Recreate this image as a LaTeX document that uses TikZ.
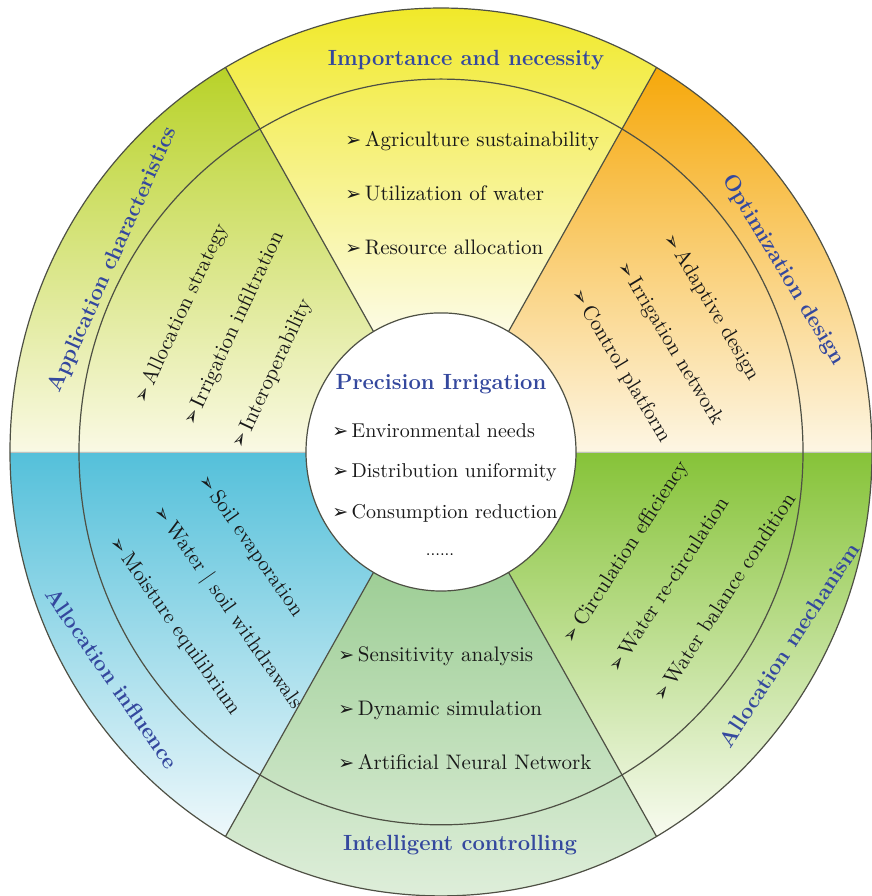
\documentclass[tikz,border=0pt]{standalone}
\usepackage{fontspec}
\newfontfamily\arrowfont{DejaVu Sans}
\definecolor{titleblue}{RGB}{52,72,158}
\definecolor{lineg}{RGB}{78,80,68}
\definecolor{orgA}{RGB}{246,168,10}
\definecolor{orgM}{RGB}{250,204,90}
\definecolor{orgB}{RGB}{253,246,228}
\definecolor{yelA}{RGB}{240,232,30}
\definecolor{yelM}{RGB}{245,240,120}
\definecolor{yelB}{RGB}{252,251,228}
\definecolor{lgA}{RGB}{184,210,40}
\definecolor{lgM}{RGB}{222,232,130}
\definecolor{lgB}{RGB}{250,249,228}
\definecolor{cyA}{RGB}{84,192,218}
\definecolor{cyM}{RGB}{115,203,227}
\definecolor{cyB}{RGB}{238,248,251}
\definecolor{mgA}{RGB}{158,206,150}
\definecolor{mgM}{RGB}{190,222,184}
\definecolor{mgB}{RGB}{226,240,222}
\definecolor{grA}{RGB}{134,195,56}
\definecolor{grM}{RGB}{178,215,105}
\definecolor{grB}{RGB}{248,251,240}
\newcommand{\bul}{{\arrowfont\fontsize{9.5}{9.5}\selectfont ➢}\,}
\tikzset{
    ringtitle/.style = {font=\fontsize{11}{13}\selectfont\bfseries, text=titleblue, inner sep=0pt},
    itemlist/.style = {align=left, font=\fontsize{10.5}{27}\selectfont, text=black!90, inner sep=0pt},
    coreitems/.style = {align=left, font=\fontsize{10}{20.25}\selectfont, text=black!90, inner sep=0pt},
    coretitle/.style = {font=\fontsize{11}{13}\selectfont\bfseries, text=titleblue, inner sep=0pt},
    border/.style = {draw=lineg, line width=0.6pt},
    faint/.style = {draw=lineg!35, line width=0.4pt}
}
\begin{document}
\begin{tikzpicture}[x=0.5pt,y=0.515pt]
\useasboundingbox (-441,-431.1) rectangle (430,438.8);
%
\foreach \a/\ct/\cm/\cb in {0/orgA/orgM/orgB, 60/yelA/yelM/yelB, 120/lgA/lgM/lgB,
                            180/cyA/cyM/cyB, 240/mgA/mgM/mgB, 300/grA/grM/grB}
  \shade[top color=\ct, middle color=\cm, bottom color=\cb]
    (\a:135) -- (\a:431) arc[start angle=\a, delta angle=60, radius=431]
    -- ({\a+60}:135) arc[start angle=\a+60, delta angle=-60, radius=135] -- cycle;
%
\draw[faint] (0:135) -- (0:431);
\draw[faint] (180:135) -- (180:431);
\foreach \a in {60,120,240,300}
  \draw[border] (\a:135) -- (\a:431);
\draw[border] (0,0) circle (431);
\draw[border] (0,0) circle (362);
\draw[border,fill=white] (0,0) circle (135);
%
\node[coretitle] (core) at (0,66) {Precision Irrigation};
\node[coreitems,anchor=west] (coreItems) at (-109,-20.4)
  {\bul Environmental needs\\ \bul Distribution uniformity\\ \bul Consumption reduction};
\node[font=\footnotesize,inner sep=0pt] (coreDots) at (-1,-100) {......};
%
\node[ringtitle] (imp) at (25,380.6) {Importance and necessity};
\node[itemlist,anchor=west] (impItems) at (-96,251)
  {\bul Agriculture sustainability\\ \bul Utilization of water\\ \bul Resource allocation};
%
\node[ringtitle,rotate=-59] (opt) at (342,176.7) {Optimization design};
\node[itemlist,rotate=-59,anchor=west] (optItems) at (181,183.5)
  {\bul Adaptive design\\ \bul Irrigation network\\ \bul Control platform};
%
\node[ringtitle,rotate=57] (mech) at (348,-187.4) {Allocation mechanism};
\node[itemlist,rotate=57,anchor=west] (mechItems) at (171,-211.7)
  {\bul Circulation efficiency\\ \bul Water re-circulation\\ \bul Water balance condition};
%
\node[ringtitle] (ctrl) at (19,-381.6) {Intelligent controlling};
\node[itemlist,anchor=west] (ctrlItems) at (-103,-248.5)
  {\bul Sensitivity analysis\\ \bul Dynamic simulation\\ \bul Artificial Neural Network};
%
\node[ringtitle,rotate=-55] (infl) at (-329,-219.4) {Allocation influence};
\node[itemlist,rotate=-55,anchor=west] (inflItems) at (-283,-54.4)
  {\bul Soil evaporation\\ \bul Water | soil withdrawals\\ \bul Moisture equilibrium};
%
\node[ringtitle,rotate=66] (appl) at (-328,186.4) {Application characteristics};
\node[itemlist,rotate=65,anchor=west] (applItems) at (-252,26.2)
  {\bul Allocation strategy\\ \bul Irrigation infiltration\\ \bul Interoperability};
\end{tikzpicture}
\end{document}
